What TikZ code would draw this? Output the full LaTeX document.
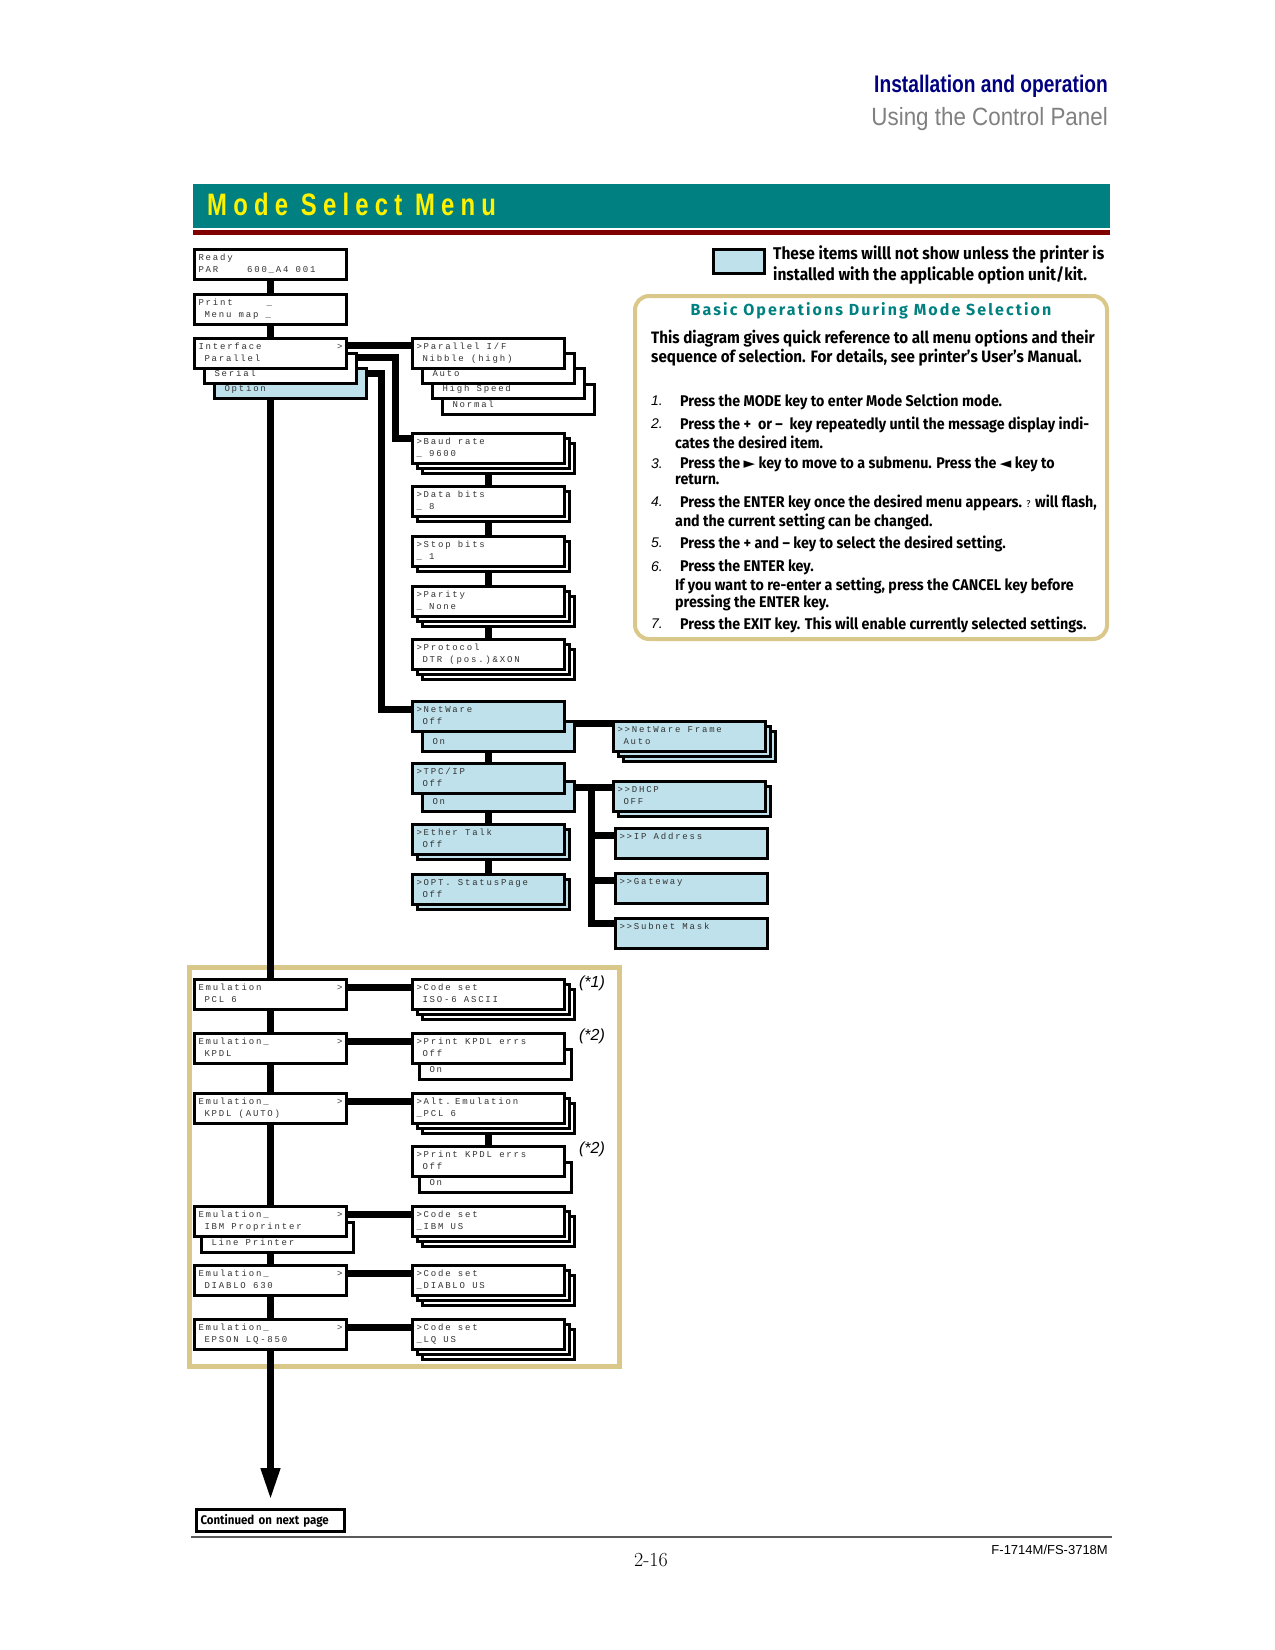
\documentclass[tikz,border=0pt]{standalone}
\usepackage{fontspec}
\usetikzlibrary{arrows.meta,shadows,backgrounds}

\definecolor{optblue}{RGB}{190,225,235}
\definecolor{tealbar}{RGB}{0,128,128}
\definecolor{darkred}{RGB}{128,0,0}
\definecolor{tanframe}{RGB}{218,200,138}
\definecolor{navyhead}{RGB}{0,0,128}

\newfontfamily\lcdfont[LetterSpace=20]{Liberation Mono}
\newfontfamily\headfont[FakeStretch=0.8]{Liberation Sans}
\newfontfamily\subheadfont[FakeStretch=0.895]{Liberation Sans}
\newfontfamily\titlefont[FakeStretch=0.77,LetterSpace=20]{Liberation Sans}
\newfontfamily\notefont[FakeStretch=0.92]{Fira Sans}
\newfontfamily\legendfont[FakeStretch=0.91]{Fira Sans}
\newfontfamily\spacedfont[LetterSpace=13]{Fira Sans}
\newfontfamily\italfont{Liberation Sans}
\newfontfamily\symfont{DejaVu Sans}

\newcommand{\ind}{\hspace*{6pt}}
\protected\def\lcdspace{\spaceskip=7.2pt\relax}

\begin{document}
\begin{tikzpicture}[x=1pt,y=-1pt,>={Triangle[length=32pt,width=18pt]}]
  \tikzstyle{lcd}=[draw, line width=3pt, fill=white, anchor=north west,
    minimum width=152pt, minimum height=30pt, text width=144pt,
    inner xsep=4pt, inner ysep=0pt, align=left, text=black!80,
    font=\lcdfont\fontsize{9}{12}\selectfont,
    execute at begin node={\lcdspace\strut}, execute at end node=\strut]
  \tikzstyle{opt}=[lcd, fill=optblue]
  \tikzstyle{stackone}=[copy shadow={shadow xshift=5pt, shadow yshift=-5pt}]
  \tikzstyle{stacktwo}=[copy shadow={shadow xshift=10pt, shadow yshift=-10pt},
    copy shadow={shadow xshift=5pt, shadow yshift=-5pt}]
  \tikzstyle{conn}=[line width=7pt]
  \tikzstyle{note}=[anchor=north west, inner sep=0pt, align=left,
    font=\notefont\bfseries\fontsize{15.5}{16}\selectfont]
  \tikzstyle{stepno}=[anchor=north west, inner sep=0pt,
    font=\italfont\itshape\fontsize{14}{16}\selectfont]
  \tikzstyle{remark}=[font=\italfont\itshape\fontsize{16}{18}\selectfont]

  \useasboundingbox (0,0) rectangle (1275,1650);

  % page head
  \node[anchor=base east, inner sep=0pt, text=navyhead,
    font=\headfont\bfseries\fontsize{24}{26}\selectfont] (chapter) at (1108,92) {Installation and operation};
  \node[anchor=base east, inner sep=0pt, text=black!50,
    font=\subheadfont\fontsize{25}{27}\selectfont] (section) at (1108,125) {Using the Control Panel};
  \fill[tealbar] (193,184) rectangle (1110,228);
  \fill[darkred] (193,230) rectangle (1110,235);
  \node[anchor=base west, inner sep=0pt, text=yellow,
    font=\titlefont\bfseries\fontsize{31}{33}\selectfont] (title) at (207,215) {Mode Select Menu};

  % main column
  \node[lcd] (ready) at (193,248) {Ready\\PAR\ \ \ \ 600\_A4 001};
  \node[lcd] (print) at (193,293) {Print\hspace{34pt}\_\\\ind Menu map \_};
  \node[opt] (option) at (213,367) {\mbox{}\\\ind Option};
  \node[lcd] (serial) at (203,352) {\mbox{}\\\ind Serial};
  \node[lcd] (iface) at (193,337) {Interface\hfill >\\\ind Parallel};

  % parallel
  \node[lcd] (normal) at (441,383) {\mbox{}\\\ind Normal};
  \node[lcd] (hispeed) at (431,367) {\mbox{}\\\ind High Speed};
  \node[lcd] (auto) at (421,352) {\mbox{}\\\ind Auto};
  \node[lcd] (parif) at (411,337) {>Parallel I/F\\\ind Nibble (high)};

  % serial
  \node[lcd,stacktwo] (baud) at (411,432) {>Baud rate\\\_ 9600};
  \node[lcd,stackone] (databits) at (411,485) {>Data bits\\\_ 8};
  \node[lcd,stackone] (stopbits) at (411,535) {>Stop bits\\\_ 1};
  \node[lcd,stacktwo] (parity) at (411,585) {>Parity\\\_ None};
  \node[lcd,stacktwo] (protocol) at (411,638) {>Protocol\\\ind DTR (pos.)\&XON};

  % option (network)
  \node[opt] (nwon) at (421,720) {\mbox{}\\\ind On};
  \node[opt] (netware) at (411,700) {>NetWare\\\ind Off};
  \node[opt,stacktwo] (nwframe) at (612,720) {>>NetWare Frame\\\ind Auto};
  \node[opt] (tcpon) at (421,780) {\mbox{}\\\ind On};
  \node[opt] (tcpip) at (411,762) {>TPC/IP\\\ind Off};
  \node[opt,stackone] (dhcp) at (612,780) {>>DHCP\\\ind OFF};
  \node[opt] (ipaddr) at (614,827) {>>IP Address\\\mbox{}};
  \node[opt] (gateway) at (614,872) {>>Gateway\\\mbox{}};
  \node[opt] (subnet) at (614,917) {>>Subnet Mask\\\mbox{}};
  \node[opt,stackone] (ether) at (411,823) {>Ether Talk\\\ind Off};
  \node[opt,stackone] (optstatus) at (411,873) {>OPT. StatusPage\\\ind Off};

  % emulations
  \node[lcd] (pcl) at (193,978) {Emulation\hfill >\\\ind PCL 6};
  \node[lcd,stacktwo] (codeiso) at (411,978) {>Code set\\\ind ISO-6 ASCII};
  \node[lcd] (kpdl) at (193,1032) {Emulation\_\hfill >\\\ind KPDL};
  \node[lcd] (kpdlon) at (418,1048) {\mbox{}\\\ind On};
  \node[lcd] (kpdlerr) at (411,1032) {>Print KPDL errs\\\ind Off};
  \node[lcd] (kpdlauto) at (193,1092) {Emulation\_\hfill >\\\ind KPDL (AUTO)};
  \node[lcd,stacktwo] (altemu) at (411,1092) {>Alt. Emulation\\\_PCL 6};
  \node[lcd] (autoon) at (418,1161) {\mbox{}\\\ind On};
  \node[lcd] (autoerr) at (411,1145) {>Print KPDL errs\\\ind Off};
  \node[lcd] (lineprt) at (200,1221) {\mbox{}\\\ind Line Printer};
  \node[lcd] (ibm) at (193,1205) {Emulation\_\hfill >\\\ind IBM Proprinter};
  \node[lcd,stacktwo] (codeibm) at (411,1205) {>Code set\\\_IBM US};
  \node[lcd] (diablo) at (193,1264) {Emulation\_\hfill >\\\ind DIABLO 630};
  \node[lcd,stacktwo] (codediablo) at (411,1264) {>Code set\\\_DIABLO US};
  \node[lcd] (epson) at (193,1318) {Emulation\_\hfill >\\\ind EPSON LQ-850};
  \node[lcd,stacktwo] (codelq) at (411,1318) {>Code set\\\_LQ US};

  \node[remark] (rem1) at (592,983) {(*1)};
  \node[remark] (rem2) at (592,1036) {(*2)};
  \node[remark] (rem3) at (592,1149) {(*2)};

  \node[draw, line width=3pt, anchor=north west, minimum width=148pt,
    minimum height=22pt, inner sep=2pt, text width=140pt, align=left,
    font=\notefont\bfseries\fontsize{12.5}{14}\selectfont] (cont) at (195,1508) {Continued on next page};

  % legend
  \node[draw, line width=3pt, fill=optblue, anchor=north west, minimum width=51pt,
    minimum height=24pt, inner sep=0pt] (legend) at (712,248) {};
  \node[note, font=\legendfont\bfseries\fontsize{17}{17.5}\selectfont] (legendtxt) at (773,246)
    {\strut These items willl not show unless the printer is\\installed with the applicable option unit/kit.};

  % basic operations
  \draw[tanframe, line width=4pt, rounded corners=14pt] (635,296) rectangle (1107,639);
  \node[anchor=base, inner sep=0pt, text=tealbar,
    font=\spacedfont\bfseries\fontsize{16}{18}\selectfont] (opstitle) at (871,315) {Basic Operations During Mode Selection};
  \node[note, font=\notefont\bfseries\fontsize{16.5}{16}\selectfont] (intro) at (651,330) {\strut This diagram gives quick reference to all menu options and their\\sequence of selection. For details, see printer’s User’s Manual.};

  \node[stepno] (n1) at (651,394) {\strut 1.};
  \node[note] (step1) at (675,394) {\strut\hspace*{5pt}Press the MODE key to enter Mode Selction mode.};
  \node[stepno] (n2) at (651,417) {\strut 2.};
  \node[note] (step2) at (675,417) {\strut\hspace*{5pt}Press the +\ \ or –\ \ key repeatedly until the message display indi-\\cates the desired item.};
  \node[stepno] (n3) at (651,457) {\strut 3.};
  \node[note] (step3) at (675,457) {\strut\hspace*{5pt}Press the {\symfont\fontsize{15}{16}\selectfont ►} key to move to a submenu. Press the {\symfont\fontsize{15}{16}\selectfont ◄} key to\\return.};
  \node[stepno] (n4) at (651,495) {\strut 4.};
  \node[note] (step4) at (675,495) {\strut\hspace*{5pt}Press the ENTER key once the desired menu appears. {\mdseries\fontsize{10}{16}\selectfont ?} will flash,\\and the current setting can be changed.};
  \node[stepno] (n5) at (651,536) {\strut 5.};
  \node[note] (step5) at (675,536) {\strut\hspace*{5pt}Press the + and – key to select the desired setting.};
  \node[stepno] (n6) at (651,560) {\strut 6.};
  \node[note] (step6) at (675,560) {\strut\hspace*{5pt}Press the ENTER key.\\If you want to re-enter a setting, press the CANCEL key before\\pressing the ENTER key.};
  \node[stepno] (n7) at (651,617) {\strut 7.};
  \node[note] (step7) at (675,617) {\strut\hspace*{5pt}Press the EXIT key. This will enable currently selected settings.};

  % page foot
  \draw[black!65, line width=2pt] (191,1537) -- (1112,1537);
  \node[anchor=base, inner sep=0pt, font=\fontsize{20}{22}\selectfont] (pageno) at (651,1566) {2-16};
  \node[anchor=base east, inner sep=0pt, font=\italfont\fontsize{13}{15}\selectfont] (model) at (1108,1554) {F-1714M/FS-3718M};

  \begin{scope}[on background layer]
    \draw[tanframe, line width=5pt] (189,967) rectangle (619,1366);
    \draw[conn,->,shorten >=8pt] (ready.south) -- (cont.north);
    \draw[conn] ([yshift=-8pt]iface.north east) -- ([yshift=-8pt]parif.north west);
    \draw[conn] ([yshift=-5pt]serial.north east) -| ([xshift=-16pt,yshift=-6pt]baud.north west) -- ([yshift=-6pt]baud.north west);
    \draw[conn] ([yshift=-6pt]option.north east) -| ([xshift=-30pt,yshift=-9pt]netware.north west) -- ([yshift=-9pt]netware.north west);
    \draw[conn] (baud) -- (databits);
    \draw[conn] (databits) -- (stopbits);
    \draw[conn] (stopbits) -- (parity);
    \draw[conn] (parity) -- (protocol);
    \draw[conn] (netware) -- (tcpip);
    \draw[conn] (tcpip) -- (ether);
    \draw[conn] (ether) -- (optstatus);
    \draw[conn] ([yshift=-3pt]nwon.north east) -- ([yshift=-3pt]nwframe.north west);
    \draw[conn] ([yshift=-7pt]tcpon.north east) -- ([yshift=-7pt]dhcp.north west);
    \coordinate (tcpbus) at ([xshift=15pt,yshift=-7pt]tcpon.north east);
    \draw[conn] ([yshift=-8pt]ipaddr.north west) -| (tcpbus);
    \draw[conn] ([yshift=-8pt]gateway.north west) -| (tcpbus);
    \draw[conn] ([yshift=-6pt]subnet.north west) -| (tcpbus);
    \draw[conn] ([yshift=-9pt]pcl.north east) -- ([yshift=-9pt]codeiso.north west);
    \draw[conn] ([yshift=-9pt]kpdl.north east) -- ([yshift=-9pt]kpdlerr.north west);
    \draw[conn] ([yshift=-9pt]kpdlauto.north east) -- ([yshift=-9pt]altemu.north west);
    \draw[conn] (altemu) -- (autoerr);
    \draw[conn] ([yshift=-9pt]ibm.north east) -- ([yshift=-9pt]codeibm.north west);
    \draw[conn] ([yshift=-9pt]diablo.north east) -- ([yshift=-9pt]codediablo.north west);
    \draw[conn] ([yshift=-9pt]epson.north east) -- ([yshift=-9pt]codelq.north west);
  \end{scope}
\end{tikzpicture}
\end{document}
